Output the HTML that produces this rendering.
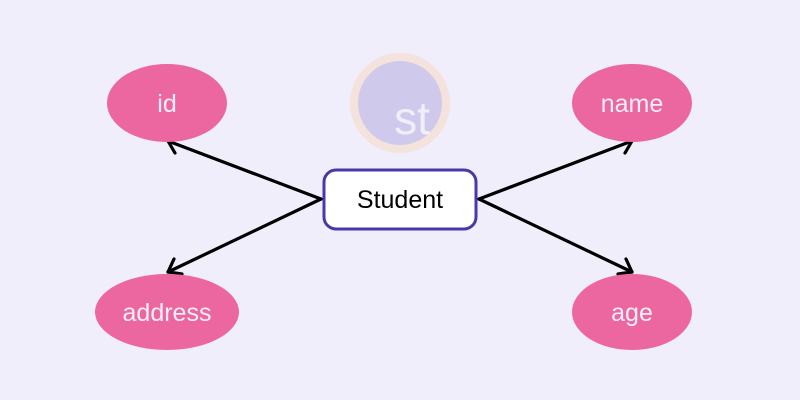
<!DOCTYPE html>
<html><head><style>body{margin:0;background:#f1eefc}svg{display:block}text{font-family:"Liberation Sans",sans-serif}</style></head>
<body>
<svg width="800" height="400" viewBox="0 0 800 400">
<rect width="800" height="400" fill="#f1eefc"/>
<circle cx="400" cy="103" r="46" fill="#cfcaec" stroke="#f3e3dc" stroke-width="8"/>
<text x="412" y="134" font-size="46" fill="#f1eefc" text-anchor="middle">st</text>
<g stroke="#000" stroke-width="3.2" fill="none" stroke-linecap="round" stroke-linejoin="round">
<line x1="321" y1="199" x2="168" y2="141"/>
<polyline points="181,135 168,141 175,153"/>
<line x1="321" y1="199" x2="168" y2="272"/>
<polyline points="174,259 168,272 182,274"/>
<line x1="479" y1="199" x2="632" y2="141"/>
<polyline points="619,135 632,141 625,153"/>
<line x1="479" y1="199" x2="632" y2="272"/>
<polyline points="626,259 632,272 618,274"/>
</g>
<ellipse cx="167" cy="103" rx="60" ry="39" fill="#ec66a0"/>
<ellipse cx="167" cy="312" rx="72" ry="38" fill="#ec66a0"/>
<ellipse cx="632" cy="103" rx="60" ry="39" fill="#ec66a0"/>
<ellipse cx="632" cy="312" rx="60" ry="38" fill="#ec66a0"/>
<g fill="#f6eef8" font-size="25" text-anchor="middle">
<text x="167" y="112">id</text>
<text x="167" y="321">address</text>
<text x="632" y="112">name</text>
<text x="632" y="321">age</text>
</g>
<rect x="324" y="170" width="152" height="59" rx="12" fill="#fff" stroke="#4a38a8" stroke-width="3"/>
<text x="400" y="208" font-size="25" text-anchor="middle" fill="#000">Student</text>
</svg>
</body></html>
